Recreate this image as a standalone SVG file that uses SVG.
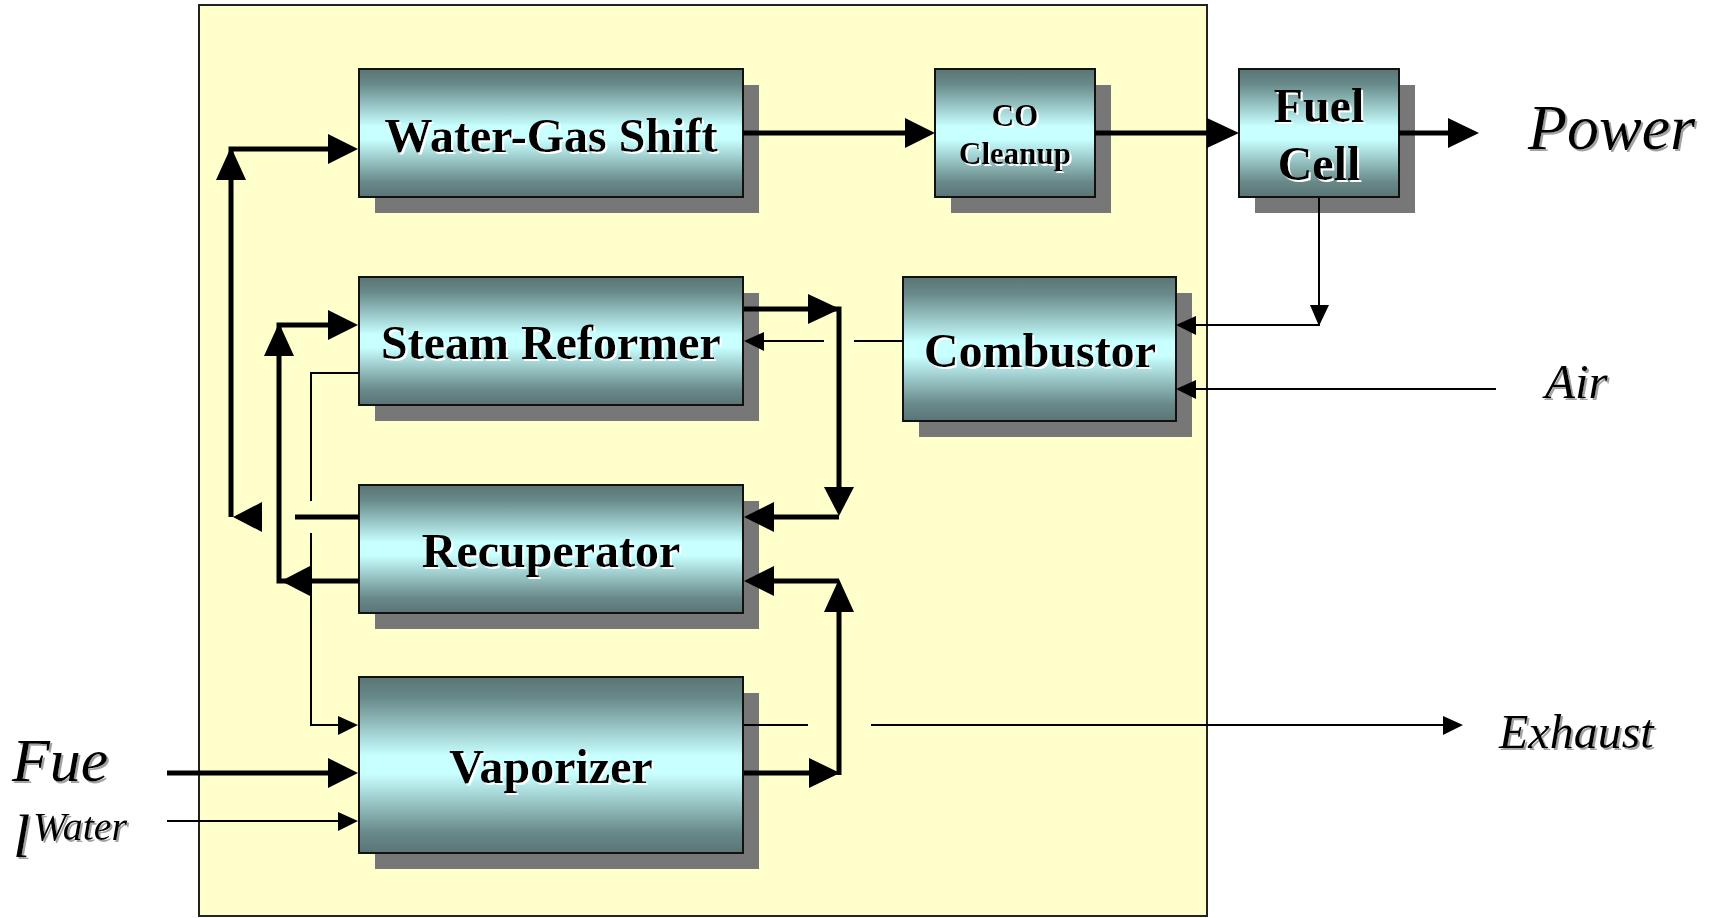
<svg xmlns="http://www.w3.org/2000/svg" width="1714" height="918" viewBox="0 0 1714 918">
<defs>
<linearGradient id="boxg" x1="0" y1="0" x2="0" y2="1">
<stop offset="0" stop-color="#5b7474"/>
<stop offset="0.12" stop-color="#698a8a"/>
<stop offset="0.45" stop-color="#c8ffff"/>
<stop offset="0.55" stop-color="#c8ffff"/>
<stop offset="0.88" stop-color="#698a8a"/>
<stop offset="1" stop-color="#5b7474"/>
</linearGradient>
<filter id="wsh" x="-10%" y="-10%" width="120%" height="130%">
<feDropShadow dx="2" dy="2" stdDeviation="0.4" flood-color="#ffffff" flood-opacity="1"/>
</filter>
<filter id="gsh" x="-10%" y="-10%" width="120%" height="130%">
<feDropShadow dx="2" dy="2" stdDeviation="0.6" flood-color="#999999" flood-opacity="0.9"/>
</filter>
</defs>
<style>
.shadow{fill:#777777}
.box{fill:url(#boxg);stroke:#111;stroke-width:2}
.bt{font-family:"Liberation Serif","Times New Roman",serif;font-weight:bold;fill:#000;text-anchor:middle;filter:url(#wsh)}
.it{font-family:"Liberation Serif","Times New Roman",serif;font-style:italic;fill:#000;filter:url(#gsh)}
.thick{stroke:#000;stroke-width:5;fill:none}
.thin{stroke:#000;stroke-width:2;fill:none}
.ah{fill:#000}
</style>
<rect x="0" y="0" width="1714" height="918" fill="#ffffff"/>
<rect id="frame" x="199" y="5" width="1008" height="911" fill="#ffffcc" stroke="#222" stroke-width="2"/>

<g id="wgs">
<rect class="shadow" x="375" y="85" width="384" height="128"/>
<rect class="box" x="359" y="69" width="384" height="128"/>
<text class="bt" x="551" y="152" font-size="48">Water-Gas Shift</text>
</g>
<g id="co-cleanup">
<rect class="shadow" x="951" y="85" width="160" height="128"/>
<rect class="box" x="935" y="69" width="160" height="128"/>
<text class="bt" x="1015" y="126" font-size="31">CO</text>
<text class="bt" x="1015" y="164" font-size="31">Cleanup</text>
</g>
<g id="fuel-cell">
<rect class="shadow" x="1255" y="85" width="160" height="128"/>
<rect class="box" x="1239" y="69" width="160" height="128"/>
<text class="bt" x="1319" y="122" font-size="48">Fuel</text>
<text class="bt" x="1319" y="180" font-size="48">Cell</text>
</g>
<g id="steam-reformer">
<rect class="shadow" x="375" y="293" width="384" height="128"/>
<rect class="box" x="359" y="277" width="384" height="128"/>
<text class="bt" x="551" y="359" font-size="48">Steam Reformer</text>
</g>
<g id="combustor">
<rect class="shadow" x="919" y="293" width="273" height="144"/>
<rect class="box" x="903" y="277" width="273" height="144"/>
<text class="bt" x="1040" y="367" font-size="48">Combustor</text>
</g>
<g id="recuperator">
<rect class="shadow" x="375" y="501" width="384" height="128"/>
<rect class="box" x="359" y="485" width="384" height="128"/>
<text class="bt" x="551" y="567" font-size="48">Recuperator</text>
</g>
<g id="vaporizer">
<rect class="shadow" x="375" y="693" width="384" height="176"/>
<rect class="box" x="359" y="677" width="384" height="176"/>
<text class="bt" x="551" y="783" font-size="48">Vaporizer</text>
</g>

<g id="connectors">
<!-- top row -->
<line class="thick" x1="743" y1="133" x2="910" y2="133"/>
<polygon class="ah" points="935,133 905,118 905,148"/>
<line class="thick" x1="1095" y1="133" x2="1212" y2="133"/>
<polygon class="ah" points="1239,133 1207,118 1207,148"/>
<line class="thick" x1="1399" y1="133" x2="1452" y2="133"/>
<polygon class="ah" points="1479,133 1448,118 1448,148"/>
<!-- fuel cell to combustor -->
<polyline class="thin" points="1319,198 1319,325 1190,325"/>
<polygon class="ah" points="1319,326 1310,305 1329,305"/>
<polygon class="ah" points="1176,325 1196,316 1196,335"/>
<!-- air -->
<line class="thin" x1="1496" y1="389" x2="1190" y2="389"/>
<polygon class="ah" points="1176,389 1196,380 1196,399"/>
<!-- WGS feed loop -->
<polyline class="thick" points="231,517 231,149 332,149"/>
<polygon class="ah" points="231,147 216,180 246,180"/>
<polygon class="ah" points="358,149 328,134 328,164"/>
<polygon class="ah" points="233,517 262,502 262,532"/>
<line class="thick" x1="295" y1="517" x2="359" y2="517"/>
<!-- SR feed loop -->
<polyline class="thick" points="359,581 279,581 279,325 332,325"/>
<polygon class="ah" points="279,323 264,356 294,356"/>
<polygon class="ah" points="358,325 328,310 328,340"/>
<polygon class="ah" points="281,581 310,566 310,596"/>
<!-- thin SR to vaporizer -->
<polyline class="thin" points="359,373 311,373 311,501"/>
<polyline class="thin" points="311,533 311,725 340,725"/>
<polygon class="ah" points="358,725 338,716 338,735"/>
<!-- SR right to recuperator -->
<polyline class="thick" points="744,309 839,309 839,490"/>
<polygon class="ah" points="840,309 808,294 808,324"/>
<polygon class="ah" points="839,516 824,487 854,487"/>
<line class="thick" x1="839" y1="517" x2="770" y2="517"/>
<polygon class="ah" points="744,517 774,502 774,532"/>
<!-- combustor to SR (thin) -->
<line class="thin" x1="903" y1="341" x2="854" y2="341"/>
<line class="thin" x1="824" y1="341" x2="760" y2="341"/>
<polygon class="ah" points="744,341 764,332 764,351"/>
<!-- vaporizer right to recuperator -->
<line class="thick" x1="744" y1="773" x2="814" y2="773"/>
<polygon class="ah" points="840,773 809,758 809,788"/>
<line class="thick" x1="839" y1="775" x2="839" y2="607"/>
<polygon class="ah" points="839,579 824,612 854,612"/>
<line class="thick" x1="839" y1="581" x2="770" y2="581"/>
<polygon class="ah" points="744,581 774,566 774,596"/>
<!-- exhaust -->
<line class="thin" x1="744" y1="725" x2="808" y2="725"/>
<line class="thin" x1="871" y1="725" x2="1446" y2="725"/>
<polygon class="ah" points="1463,725 1443,716 1443,735"/>
<!-- fuel / water -->
<line class="thick" x1="167" y1="773" x2="332" y2="773"/>
<polygon class="ah" points="358,773 328,758 328,788"/>
<line class="thin" x1="167" y1="821" x2="340" y2="821"/>
<polygon class="ah" points="358,821 338,812 338,831"/>
</g>

<g id="labels">
<text class="it" x="1528" y="149" font-size="64">Power</text>
<text class="it" x="1545" y="398" font-size="49">Air</text>
<text class="it" x="1499" y="748" font-size="48">Exhaust</text>
<text class="it" font-size="62"><tspan x="12" y="781">Fue</tspan><tspan x="13" y="857">l</tspan></text>
<text class="it" x="33" y="840" font-size="40">Water</text>
</g>
</svg>
